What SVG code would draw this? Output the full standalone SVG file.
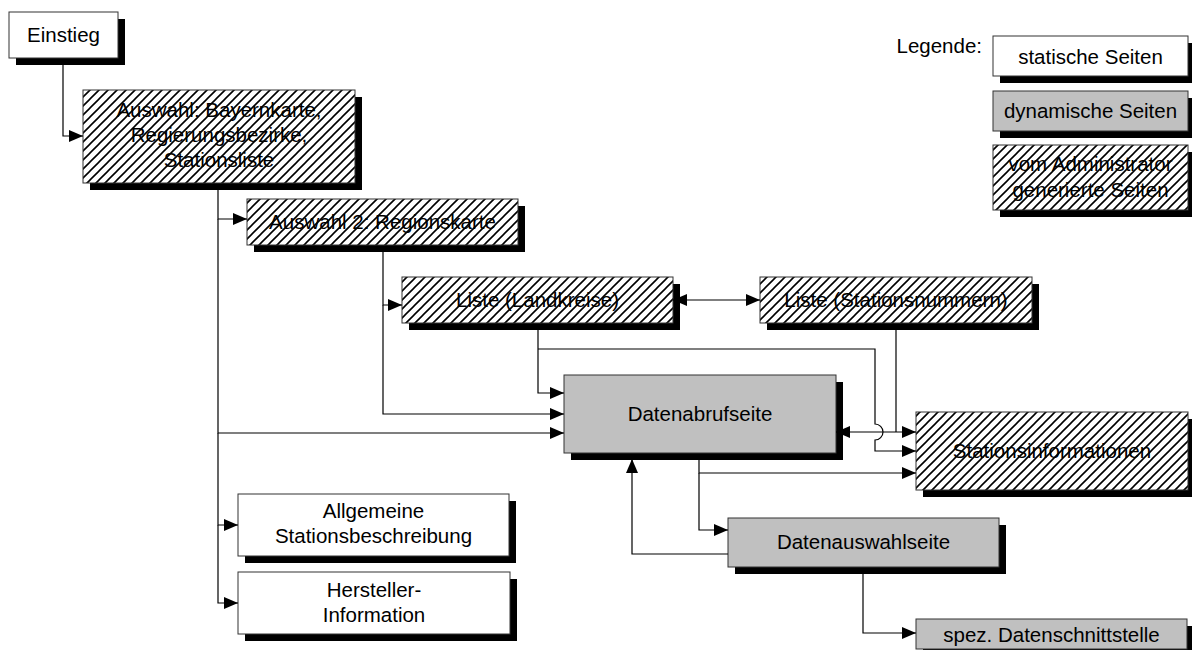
<svg xmlns="http://www.w3.org/2000/svg" width="1192" height="650" viewBox="0 0 1192 650">
<style>
text{font-family:"Liberation Sans",Arial,sans-serif;font-size:20.5px;fill:#000;text-anchor:middle}
.sh{fill:#000}
.st{fill:#fff;stroke:#333;stroke-width:1}
.dy{fill:#c0c0c0;stroke:#333;stroke-width:1}
.ad{fill:url(#hatch);stroke:#333;stroke-width:1}
.c{fill:none;stroke:#000;stroke-width:1.2}
.a{marker-end:url(#ah)}
.b{marker-start:url(#ah);marker-end:url(#ah)}
</style>
<defs>
<pattern id="hatch" patternUnits="userSpaceOnUse" width="9" height="9">
<rect width="9" height="9" fill="#fff"/>
<path d="M-2,2 L2,-2 M0,9 L9,0 M7,11 L11,7" stroke="#000" stroke-width="1.6"/>
</pattern>
<marker id="ah" markerUnits="userSpaceOnUse" markerWidth="14" markerHeight="12" refX="14" refY="6" orient="auto-start-reverse">
<path d="M0,0 L14,6 L0,12 z" fill="#000"/>
</marker>
</defs>
<rect width="1192" height="650" fill="#fff"/>

<g id="einstieg"><rect class="sh" x="16" y="19" width="109" height="46"/><rect class="st" x="9" y="12" width="109" height="46"/><text x="63.5" y="42">Einstieg</text></g>

<g id="auswahl1"><rect class="sh" x="90" y="97" width="272" height="93"/><rect class="ad" x="83" y="90" width="272" height="93"/><text x="219" y="117">Auswahl: Bayernkarte,</text><text x="219" y="142">Regierungsbezirke,</text><text x="219" y="167">Stationsliste</text></g>

<g id="auswahl2"><rect class="sh" x="254" y="206" width="271" height="46"/><rect class="ad" x="247" y="199" width="271" height="46"/><text x="382.5" y="229">Auswahl 2: Regionskarte</text></g>

<g id="landkreise"><rect class="sh" x="409" y="284" width="271" height="46"/><rect class="ad" x="402" y="277" width="271" height="46"/><text x="537.5" y="307">Liste (Landkreise)</text></g>

<g id="stationsnummern"><rect class="sh" x="767" y="284" width="272" height="46"/><rect class="ad" x="760" y="277" width="272" height="46"/><text x="896" y="307">Liste (Stationsnummern)</text></g>

<g id="datenabruf"><rect class="sh" x="571" y="382" width="272" height="78"/><rect class="dy" x="564" y="375" width="272" height="78"/><text x="700" y="421">Datenabrufseite</text></g>

<g id="stationsinfo"><rect class="sh" x="923" y="419" width="272" height="78"/><rect class="ad" x="916" y="412" width="272" height="78"/><text x="1052" y="458">Stationsinformationen</text></g>

<g id="allgemeine"><rect class="sh" x="245" y="501" width="271" height="62"/><rect class="st" x="238" y="494" width="271" height="62"/><text x="373.5" y="518">Allgemeine</text><text x="373.5" y="543">Stationsbeschreibung</text></g>

<g id="hersteller"><rect class="sh" x="245" y="579" width="272" height="62"/><rect class="st" x="238" y="572" width="272" height="62"/><text x="374" y="597">Hersteller-</text><text x="374" y="622">Information</text></g>

<g id="datenauswahl"><rect class="sh" x="735" y="525" width="271" height="49"/><rect class="dy" x="728" y="518" width="271" height="49"/><text x="863.5" y="549">Datenauswahlseite</text></g>

<g id="schnittstelle"><rect class="sh" x="923" y="626" width="271" height="30"/><rect class="dy" x="916" y="619" width="271" height="30"/><text x="1051.5" y="642">spez. Datenschnittstelle</text></g>

<g id="legende">
<text x="982" y="53" style="text-anchor:end">Legende:</text>
<rect class="sh" x="1000" y="43" width="195" height="40"/><rect class="st" x="993" y="36" width="195" height="40"/><text x="1090.5" y="64">statische Seiten</text>
<rect class="sh" x="1000" y="98" width="195" height="40"/><rect class="dy" x="993" y="91" width="195" height="40"/><text x="1090.5" y="118">dynamische Seiten</text>
<rect class="sh" x="1000" y="152" width="195" height="65"/><rect class="ad" x="993" y="145" width="195" height="65"/><text x="1090.5" y="171">vom Administrator</text><text x="1090.5" y="197">generierte Seiten</text>
</g>

<g id="connectors">
<path class="c a" d="M63,65 V136 H83"/>
<path class="c a" d="M218,190 V219 H247"/>
<path class="c a" d="M218,219 V433 H564"/>
<path class="c a" d="M218,433 V525 H238"/>
<path class="c a" d="M218,525 V603 H238"/>
<path class="c a" d="M383,252 V305 H402"/>
<path class="c a" d="M383,305 V414 H564"/>
<path class="c b" d="M673,300 H760"/>
<path class="c a" d="M538,330 V393 H564"/>
<path class="c a" d="M538,349 H875 V424 A8,8 0 0 1 875,440 V451 H916"/>
<path class="c" d="M896,330 V432"/>
<path class="c b" d="M836,432 H916"/>
<path class="c a" d="M699,460 V473 H916"/>
<path class="c a" d="M699,473 V530 H728"/>
<path class="c a" d="M728,554 H632 V459"/>
<path class="c a" d="M863,574 V633 H916"/>
</g>
</svg>
